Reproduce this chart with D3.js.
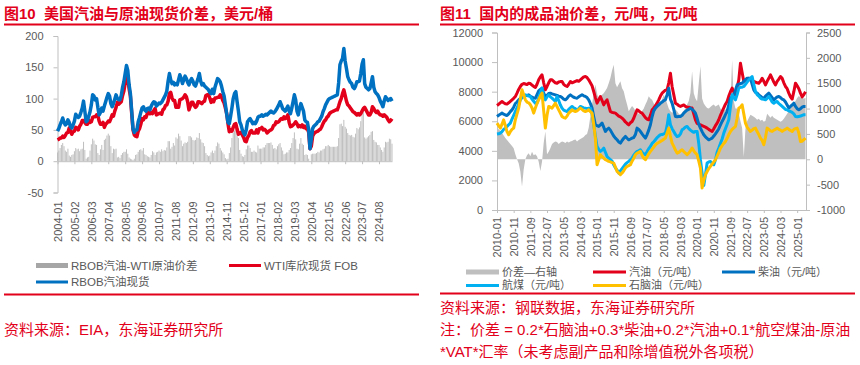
<!DOCTYPE html>
<html>
<head>
<meta charset="utf-8">
<script src="https://cdn.jsdelivr.net/npm/d3@7"></script>
<style>
body{margin:0;background:#fff;}
text{font-family:"Liberation Sans","Noto Sans CJK SC",sans-serif;white-space:pre;}
</style>
</head>
<body>
<svg id="chart" width="860" height="365"></svg>
<script>
// ---- left chart data (monthly, 2004-01 .. 2025-06), USD/bbl ----
var rbobSpot = [
48,52,58,63,69,62,58,60,66,62,55,53,
58,64,75,72,70,72,78,85,96,80,63,65,
72,79,90,106,104,98,100,86,74,78,85,80,
88,95,102,108,104,92,87,92,99,106,100,98,
98,105,118,127,140,153,145,122,108,80,52,46,
50,50,63,70,78,85,87,82,80,84,85,82,
88,92,95,94,88,90,93,92,94,98,102,106,
112,128,140,130,124,126,122,124,122,130,138,132,
124,130,136,132,126,122,128,132,128,122,120,126,
132,140,128,122,124,120,118,116,114,110,108,115,
108,118,125,132,130,127,120,111,104,90,75,62,
60,72,85,100,108,111,95,80,63,58,50,45,
42,50,63,66,68,64,60,62,60,64,70,72,
72,74,72,73,75,74,76,78,80,78,77,79,
82,86,90,95,90,84,82,80,84,88,80,76,
85,95,106,98,80,74,85,92,86,80,66,63,
62,50,20,35,52,56,58,60,63,64,68,72,
79,84,90,94,98,100,101,102,103,104,105,106,
125,154,160,164,180,160,148,135,130,126,124,118,
116,120,127,127,128,140,155,162,124,118,116,114,
116,125,135,118,111,108,106,102,96,92,87,96,
103,100,97,99,100,96];
var wtiSpot = [
34,35,37,37,40,38,41,45,46,53,48,43,
47,48,54,53,50,56,59,65,65,62,59,59,
65,62,63,70,71,71,74,73,64,59,59,62,
54,59,61,64,63,68,74,72,80,86,94,91,
93,95,105,112,125,134,133,116,104,77,50,42,
40,39,48,52,59,68,66,71,70,76,78,76,
78,76,81,84,74,75,76,77,75,82,84,89,
90,96,108,110,101,97,97,86,86,86,98,99,
100,102,106,103,95,82,88,94,94,89,86,88,
95,95,93,92,95,96,105,106,106,101,94,98,
95,101,101,102,102,106,103,97,93,85,76,60,
47,50,48,54,59,60,51,43,45,46,42,38,
32,31,38,41,47,49,45,45,45,50,45,52,
52,54,50,51,49,45,47,49,50,52,57,58,
63,62,63,66,68,67,71,68,70,74,62,55,
56,58,60,63,60,55,57,55,58,54,56,52,
52,46,20,24,40,44,46,47,48,50,51,55,
60,64,66,70,72,76,78,79,80,81,82,82,
88,95,100,108,114,105,96,90,88,85,82,79,
78,76,74,76,74,76,80,84,86,82,78,74,
74,78,87,84,80,78,80,76,74,74,72,74,
72,70,66,63,65,68];
var rbobWtiSpread = [
14,17,21,26,29,24,17,15,20,9,7,10,
11,16,21,19,20,16,19,20,31,18,4,6,
7,17,27,36,33,27,26,13,10,19,26,18,
34,36,41,44,41,24,13,20,19,20,6,7,
5,10,13,15,15,19,12,6,4,3,2,4,
10,11,15,18,19,17,21,11,10,8,7,6,
10,16,14,10,14,15,17,15,19,16,18,17,
22,32,32,20,23,29,25,38,36,44,40,33,
24,28,30,29,31,40,40,38,34,33,34,38,
37,45,35,30,29,24,13,10,8,9,14,17,
13,17,24,30,28,21,17,14,11,5,3,4,
13,22,37,46,49,51,44,37,18,12,8,7,
10,19,25,25,21,15,15,17,15,14,25,20,
20,20,22,22,26,29,29,29,30,26,20,21,
19,24,27,29,22,17,11,12,14,14,18,21,
29,37,46,35,20,19,28,37,28,26,10,11,
10,4,0,11,12,12,12,13,15,14,17,17,
19,20,24,24,26,24,23,23,23,23,23,24,
37,59,60,56,66,55,52,45,42,41,42,39,
38,44,53,51,54,64,75,78,38,36,38,40,
42,47,48,34,31,30,26,26,22,18,15,22,
31,30,31,36,35,28];
var yTicksL = [-50,0,50,100,150,200];

// ---- right chart data (monthly, 2010-01 .. 2025-06), CNY/t ----
var gasoline = [
7070,7150,7250,7330,7250,7180,7160,7250,7350,7450,7550,7670,
7900,8150,8350,8500,8550,8520,8480,8570,8550,8450,8350,8280,
8500,8800,9000,9140,8600,8130,8350,8600,8800,8800,8700,8600,
8570,8650,8680,8690,8500,8400,8350,8500,8690,8600,8650,8700,
8750,8700,8800,8900,9000,9025,8950,8800,8600,8400,8010,7600,
7225,7450,7675,7400,7110,7300,7450,7050,6660,6600,6580,6550,
6450,6350,6300,6210,6100,5950,5850,5760,5900,5986,6200,6500,
6770,6700,6600,6550,6400,6250,6150,6100,6400,6770,6900,7050,
7225,7450,7700,7900,8000,8100,8125,8600,9250,8350,7800,7225,
7150,7050,7000,7050,7100,7000,6950,6950,6900,6890,6500,6100,
5850,5800,5760,5700,5650,5600,5540,5450,5380,5310,5500,5700,
5870,6100,6400,6660,6900,7150,7340,7700,8000,8240,8000,7790,
8300,8800,9920,9300,8690,8800,8850,8910,8800,8750,8700,8650,
8600,8575,8700,8910,8700,8460,8700,8900,9137,8900,8650,8460,
8700,8850,9025,8900,8600,8350,8200,7900,7650,7500,8000,8575,
8400,8200,7900,7650,7800,8000];
var diesel = [
6320,6400,6480,6550,6480,6420,6390,6500,6650,6770,6950,7200,
7300,7450,7550,7620,7675,7720,7750,7787,7700,7620,7580,7560,
7800,8050,8150,8237,7900,7675,7750,7880,7900,7850,7820,7787,
7750,7700,7675,7600,7500,7449,7550,7700,7787,7700,7620,7580,
7562,7650,7720,7787,7720,7675,7600,7449,7200,6887,6300,5761,
5700,5648,5750,5874,5600,5311,5450,5536,5400,5198,5000,4860,
4750,4600,4523,4700,4850,4973,4850,4748,4800,4860,4900,5100,
5536,5450,5311,5150,5000,4860,5100,5400,5761,6300,6700,6887,
7000,7100,7224,7300,7400,7449,7800,8237,7500,7224,6800,6324,
6300,6324,6320,6400,6550,6662,6750,6800,6887,6800,6700,6549,
6200,5800,5536,5300,5086,4950,4850,4748,4800,4860,5000,5150,
5311,5500,5750,5986,6200,6450,6662,7100,7562,7650,7787,8100,
8462,8500,8550,8575,8700,8800,8912,8900,8912,8500,8125,7950,
7900,7787,7700,7600,7562,7700,7800,7900,7750,7600,7449,7550,
7650,7675,7600,7500,7449,7300,7100,6887,7000,7100,7224,7000,
6850,6774,6850,6950,7000,6999];
var jetFuel = [
5131,5150,5198,5300,5450,5536,5650,5760,5874,6150,6400,6662,
6900,7150,7449,7600,7700,7787,7750,7700,7675,7500,7350,7224,
7224,7600,7950,8237,7600,7449,7650,7787,7650,7562,7450,7337,
7675,7400,7100,6887,6750,6700,6662,6800,6900,7000,6900,6850,
6774,6850,7000,6950,6900,6887,6850,6887,6887,6500,5761,5000,
4298,4100,3960,4050,4185,3900,3623,3500,3397,3300,3060,2850,
2700,2497,2650,2800,2947,3100,3200,3285,3400,3510,3700,3850,
3960,4000,4073,3900,3800,3735,3950,4150,4298,4500,4600,4748,
4900,5000,5086,5100,5150,5198,5700,6436,5761,5500,5311,5100,
4973,5000,5150,5423,5500,5600,5648,5500,5400,5311,5250,5311,
5311,4500,3397,2500,1650,2400,3172,3250,3285,3150,3060,3400,
3900,4185,4500,4800,5198,5500,5800,6099,7000,7787,7600,7449,
7800,8237,8300,8300,8350,8500,8650,8800,8900,9025,8500,8012,
7800,7700,7562,7500,7480,7449,7550,7675,7500,7300,7224,7300,
7337,7200,7100,6999,6900,6800,6774,6700,6662,6600,6500,6324,
6300,6324,6350,6400,6436,6436];
var naphtha = [
5874,5700,5536,5800,6099,5700,5300,5086,5300,5450,5536,6100,
6500,6887,7500,8125,7800,7449,7300,7250,7112,6900,6549,6900,
7200,7449,7700,7900,6700,5536,6400,6999,6950,6887,7050,7224,
7000,6774,6550,6324,6250,6211,6350,6549,6650,6774,6700,6662,
6700,6800,6887,6800,6700,6662,6700,6774,6650,6549,5800,4860,
3060,3400,3735,3600,3510,3400,3350,3285,3250,3200,3172,2900,
2610,2500,2385,2500,2650,2835,2950,3000,3060,3300,3500,3735,
3850,3900,3960,3700,3500,3397,3600,3800,3960,4100,4250,4410,
4500,4560,4636,4700,4780,4860,5200,5536,5000,4523,4300,4050,
3848,3900,4000,4073,3950,3850,3735,3850,4000,4185,4000,3850,
3735,3300,2835,1484,2000,2385,2600,2800,2947,3100,3250,3397,
3650,3900,4185,4350,4500,4636,4850,5100,5311,5450,5550,5648,
6200,6887,6950,7112,6500,5874,5600,5450,5311,5400,5500,5536,
5300,5100,4860,4700,4410,4900,5536,5450,5350,5311,5400,5450,
5536,5450,5400,5311,5400,5450,5536,5450,5380,5311,5450,5500,
5536,5200,4636,4650,4750,4860];
var crackSpread = [
612,590,560,520,470,420,382,340,300,260,218,100,
0,-80,-241,-537,-200,0,80,120,60,150,80,100,
60,-50,-230,-50,320,550,100,150,220,300,330,350,
340,300,330,350,340,320,350,330,350,360,380,390,
350,380,400,420,440,480,500,620,850,1078,1300,1472,
1300,1176,1250,1275,1300,1350,1406,1500,1603,1750,1866,1500,
1420,1480,1538,1400,1340,1200,1078,946,1000,1050,1012,950,
920,900,881,950,1000,1078,1150,1242,1200,1176,1100,1050,
1012,1050,1100,1180,1275,1200,1100,1000,946,920,946,980,
946,900,880,920,960,1000,1078,1150,1308,1734,1300,1200,
1143,1500,1833,1200,1100,1050,1012,1000,1030,1060,1078,1040,
1060,1078,1000,946,960,980,1000,1050,1143,1960,1143,1000,
1000,900,750,619,50,600,750,815,880,860,840,815,
780,800,760,780,740,760,900,860,820,860,820,800,
780,760,740,760,800,850,900,950,1000,1050,1100,1150,
1209,1250,1220,1209,1200,1209];
var yTicksR = [0,2000,4000,6000,8000,10000,12000];
var yTicksR2 = [-1000,-500,0,500,1000,1500,2000,2500];

var RED = "#e2001a", BLUE = "#0070c0", CYAN = "#00b0f0", GOLD = "#ffc000", GRAY = "#bfbfbf";
var FONT = "Liberation Sans, Noto Sans CJK SC, sans-serif";
var fmt = d3.timeFormat("%Y-%m");
var plain = function(d) { return String(d); };

var svg = d3.select("#chart");

function styleAxis(g, size) {
  g.attr("font-family", FONT).attr("font-size", size);
  g.select(".domain").attr("stroke", GRAY);
  g.selectAll(".tick line").attr("stroke", GRAY);
  g.selectAll("text").attr("fill", "#595959");
}

// titles and rules
function header(x0, x1, title) {
  svg.append("text").attr("x", x0).attr("y", 18.5)
    .attr("fill", RED).attr("font-size", 15).attr("font-weight", "bold")
    .text(title);
  svg.append("line").attr("x1", x0).attr("x2", x1).attr("y1", 24.5).attr("y2", 24.5)
    .attr("stroke", RED).attr("stroke-width", 2);
}
header(4, 419, "图10  美国汽油与原油现货价差，美元/桶");
header(440, 855, "图11  国内的成品油价差，元/吨，元/吨");

// ================= left chart =================
var monthsL = d3.timeMonth.range(new Date(2004, 0, 1), new Date(2025, 6, 1)).map(fmt);
var xL = d3.scalePoint().domain(monthsL).range([57.5, 392]);
var yL = d3.scaleLinear().domain([-50, 200]).range([192.5, 36]);
var tickMonthsL = monthsL.filter(function(d, i) { return i % 13 === 0; });

var left = svg.append("g");

left.append("g").selectAll("rect")
  .data(rbobWtiSpread)
  .enter().append("rect")
  .attr("x", function(d, i) { return xL(monthsL[i]) - 0.5; })
  .attr("width", 1)
  .attr("y", function(d) { return yL(Math.max(d, 0)); })
  .attr("height", function(d) { return Math.abs(yL(d) - yL(0)); })
  .attr("fill", GRAY);

var gy = left.append("g").attr("transform", "translate(57.5,0)")
  .call(d3.axisLeft(yL).tickValues(yTicksL).tickFormat(plain).tickSize(4).tickPadding(10));
styleAxis(gy, 11);

var gz = left.append("g").attr("transform", "translate(0," + yL(0) + ")")
  .call(d3.axisBottom(xL).tickValues(tickMonthsL).tickSize(3).tickSizeOuter(0).tickFormat(""));
styleAxis(gz, 11);

var gxL = left.append("g").attr("transform", "translate(0," + yL(-50) + ")")
  .call(d3.axisBottom(xL).tickValues(tickMonthsL).tickSize(0));
gxL.select(".domain").remove();
styleAxis(gxL, 11);
gxL.selectAll("text").attr("transform", "rotate(-90)").attr("y", 0).attr("x", -9)
  .attr("dy", "0.35em").attr("text-anchor", "end");

var lineL = function(arr) {
  return d3.line().x(function(d, i) { return xL(monthsL[i]); }).y(function(d) { return yL(d); })(arr);
};
left.append("path").attr("d", lineL(wtiSpot)).attr("fill", "none").attr("stroke", RED)
  .attr("stroke-width", 3.5).attr("stroke-linejoin", "round");
left.append("path").attr("d", lineL(rbobSpot)).attr("fill", "none").attr("stroke", BLUE)
  .attr("stroke-width", 3.5).attr("stroke-linejoin", "round");

// ================= right chart =================
var monthsR = d3.timeMonth.range(new Date(2010, 0, 1), new Date(2025, 6, 1)).map(fmt);
var xR = d3.scalePoint().domain(monthsR).range([497, 805.5]);
var yR = d3.scaleLinear().domain([0, 12000]).range([210, 32.5]);
var yR2 = d3.scaleLinear().domain([-1000, 2500]).range([210, 32.5]);
var tickMonthsR = monthsR.filter(function(d, i) { return i % 10 === 0; });

var right = svg.append("g");

right.append("path")
  .attr("d", d3.area()
    .x(function(d, i) { return xR(monthsR[i]); })
    .y0(yR2(0))
    .y1(function(d) { return yR2(d); })(crackSpread))
  .attr("fill", GRAY);

var gyR = right.append("g").attr("transform", "translate(497,0)")
  .call(d3.axisLeft(yR).tickValues(yTicksR).tickFormat(plain).tickSize(5).tickPadding(9));
styleAxis(gyR, 11);
var gyR2 = right.append("g").attr("transform", "translate(806,0)")
  .call(d3.axisRight(yR2).tickValues(yTicksR2).tickFormat(plain).tickSize(4).tickPadding(7));
styleAxis(gyR2, 11);

var gxR = right.append("g").attr("transform", "translate(0,210)")
  .call(d3.axisBottom(xR).tickValues(tickMonthsR).tickSize(3).tickSizeOuter(0));
styleAxis(gxR, 11);
gxR.selectAll("text").attr("transform", "rotate(-90)").attr("y", 0).attr("x", -7)
  .attr("dy", "0.35em").attr("text-anchor", "end");

var lineR = function(arr) {
  return d3.line().x(function(d, i) { return xR(monthsR[i]); }).y(function(d) { return yR(d); })(arr);
};
[[gasoline, RED], [diesel, BLUE], [jetFuel, CYAN], [naphtha, GOLD]].forEach(function(s) {
  right.append("path").attr("d", lineR(s[0])).attr("fill", "none").attr("stroke", s[1])
    .attr("stroke-width", 3).attr("stroke-linejoin", "round");
});

// ================= legends =================
function legend(items, size, w) {
  items.forEach(function(it) {
    if (it.bar) {
      svg.append("rect").attr("x", it.x).attr("y", it.y - 2.5).attr("width", w).attr("height", 5)
        .attr("fill", it.color);
    } else {
      svg.append("line").attr("x1", it.x).attr("x2", it.x + w).attr("y1", it.y).attr("y2", it.y)
        .attr("stroke", it.color).attr("stroke-width", 3);
    }
    svg.append("text").attr("x", it.x + w + 3).attr("y", it.y).attr("dy", "0.35em")
      .attr("font-size", size).attr("fill", "#595959").text(it.label);
  });
}
legend([
  {bar: true, color: "#a6a6a6", label: "RBOB汽油-WTI原油价差", x: 36, y: 265.5},
  {color: RED, label: "WTI库欣现货 FOB", x: 229, y: 265.5},
  {color: BLUE, label: "RBOB汽油现货", x: 36, y: 282}
], 11.5, 32);
legend([
  {bar: true, color: GRAY, label: "价差—右轴", x: 466, y: 272},
  {color: RED, label: "汽油（元/吨）", x: 593, y: 272},
  {color: BLUE, label: "柴油（元/吨）", x: 722, y: 272},
  {color: CYAN, label: "航煤（元/吨）", x: 466, y: 285.5},
  {color: GOLD, label: "石脑油（元/吨）", x: 593, y: 285.5}
], 11, 33);

// ================= sources =================
svg.append("line").attr("x1", 4).attr("x2", 419).attr("y1", 294.5).attr("y2", 294.5)
  .attr("stroke", RED).attr("stroke-width", 2);
svg.append("line").attr("x1", 440).attr("x2", 855).attr("y1", 293.5).attr("y2", 293.5)
  .attr("stroke", RED).attr("stroke-width", 2);
var notes = [
  {x: 4, y: 330, t: "资料来源：EIA，东海证券研究所"},
  {x: 440, y: 308, t: "资料来源：钢联数据，东海证券研究所"},
  {x: 440, y: 330, t: "注：价差 = 0.2*石脑油+0.3*柴油+0.2*汽油+0.1*航空煤油-原油"},
  {x: 440, y: 352, t: "*VAT*汇率（未考虑副产品和除增值税外各项税）"}
];
notes.forEach(function(n) {
  svg.append("text").attr("x", n.x).attr("y", n.y).attr("dy", "0.35em")
    .attr("font-size", 15).attr("fill", RED).text(n.t);
});
</script>
</body>
</html>
